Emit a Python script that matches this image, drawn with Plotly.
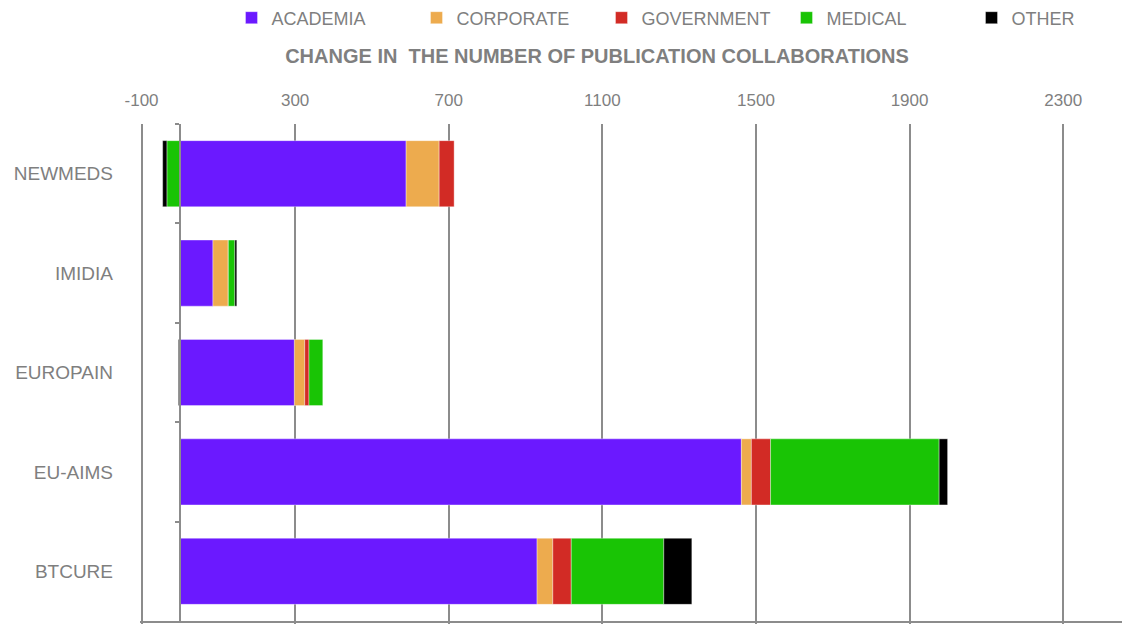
import plotly.graph_objects as go

projects = ["NEWMEDS", "IMIDIA", "EUROPAIN", "EU-AIMS", "BTCURE"]
academia = [589, 86, 298, 1462, 930]
corporate = [86, 40, 27, 26, 41]
government = [39, 0, 11, 50, 48]
medical = [-34, 17, 36, 439, 241]
other = [-11, 5, -4, 22, 73]

series_names = ["ACADEMIA", "CORPORATE", "GOVERNMENT", "MEDICAL", "OTHER"]
series_values = [academia, corporate, government, medical, other]
series_colors = ["#6B19FF", "#EDAB4E", "#D22B25", "#19C405", "#000000"]

x_ticks = [-100, 300, 700, 1100, 1500, 1900, 2300]
x_tick_labels = ["-100", "300", "700", "1100", "1500", "1900", "2300"]
x_range = [-104, 2474]
title_text = "CHANGE IN  THE NUMBER OF PUBLICATION COLLABORATIONS"

GRAY = "#8C8C8C"
TEXT = "#7F7F7F"
FONT = "Liberation Sans, Arial, sans-serif"

# the page body adds an 8px offset, so the figure is drawn 8px smaller
W, H = 1122, 616

fig = go.Figure()
for name, vals, col in zip(series_names, series_values, series_colors):
    fig.add_trace(go.Bar(
        y=projects, x=vals, name=name, orientation="h",
        marker=dict(color=col, line=dict(color="rgba(255,255,255,0.6)", width=0.6)),
    ))

# helper (invisible) trace so the secondary axes (category axis at x=0, bottom line) are drawn
fig.add_trace(go.Scatter(
    y=projects, x=[0] * len(projects), xaxis="x2", yaxis="y2", mode="markers",
    marker=dict(opacity=0), showlegend=False, hoverinfo="skip",
))

n = len(projects)

fig.update_layout(
    width=W, height=H,
    margin=dict(l=131.5, r=0, t=116, b=3, autoexpand=False),
    plot_bgcolor="white", paper_bgcolor="white",
    barmode="relative", bargap=0.335,
    font=dict(family=FONT, size=17, color=TEXT),
    title=dict(text="<b>" + title_text + "</b>", x=589 / W, xanchor="center",
               xref="container", y=1 - 48 / H, yanchor="middle", yref="container",
               font=dict(family=FONT, size=20, color=TEXT)),
    legend=dict(orientation="h", x=686 / W, xanchor="center", xref="container",
                y=1 - 10 / H, yanchor="middle", yref="container",
                font=dict(family=FONT, size=18, color=TEXT), entrywidth=140,
                traceorder="normal"),
    xaxis=dict(range=x_range, side="top", tickvals=x_ticks, ticktext=x_tick_labels,
               showgrid=True, gridcolor=GRAY, gridwidth=2, zeroline=False,
               showline=False, ticks="", ticklabelstandoff=14, automargin=False,
               tickfont=dict(family=FONT, size=17, color=TEXT)),
    xaxis2=dict(range=x_range, overlaying="x", side="bottom", anchor="y2",
                tickvals=x_ticks, showticklabels=False, showgrid=False,
                zeroline=False, showline=True, linecolor=GRAY, linewidth=2,
                ticks="outside", ticklen=3, tickcolor=GRAY, tickwidth=2,
                automargin=False),
    yaxis=dict(categoryorder="array", categoryarray=projects,
               range=[n - 0.5, -0.5], showgrid=False, zeroline=False,
               showline=False, ticks="", ticklabelstandoff=26, automargin=False,
               tickfont=dict(family=FONT, size=19, color=TEXT)),
    yaxis2=dict(categoryorder="array", categoryarray=projects,
                range=[n - 0.5, -0.5], overlaying="y", anchor="free",
                position=(0 - x_range[0]) / (x_range[1] - x_range[0]),
                side="left", tickson="boundaries", showticklabels=False,
                showgrid=False, zeroline=False, showline=True, linecolor=GRAY,
                linewidth=2, ticks="outside", ticklen=4, tickcolor=GRAY,
                tickwidth=2, automargin=False),
)

fig.write_html("out.html")
